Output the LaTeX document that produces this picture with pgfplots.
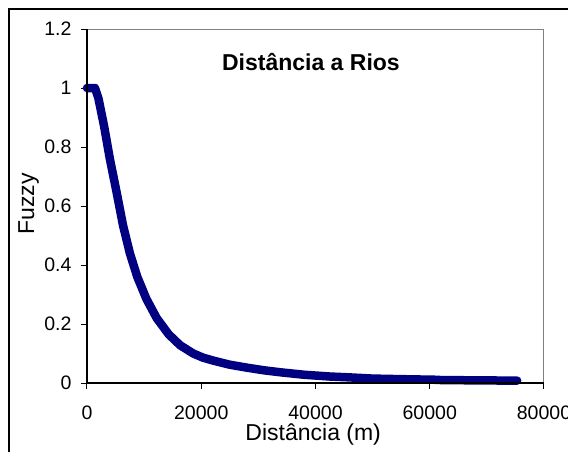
\documentclass[border=0pt]{standalone}
\usepackage{fontspec}
\setmainfont{Liberation Sans}
\usepackage{pgfplots}
\pgfplotsset{compat=1.18}
\definecolor{navyline}{RGB}{0,0,128}
\definecolor{boxgray}{RGB}{128,128,128}
\begin{document}
\begin{tikzpicture}
\useasboundingbox (-87pt,-68pt) rectangle (481pt,383pt);
% outer chart frame (only top and left edges are inside the picture)
\draw[black, line width=1.5pt] (-78pt,-70pt) -- (-78pt,374pt) -- (485pt,374pt);
\begin{axis}[
  scale only axis,
  width=457pt, height=354pt,
  xmin=0, xmax=80000, ymin=0, ymax=1.2,
  xtick={0,20000,40000,60000,80000},
  ytick={0,0.2,0.4,0.6,0.8,1,1.2},
  scaled ticks=false,
  /pgf/number format/1000 sep={},
  /pgf/number format/assume math mode=true,
  tick align=outside,
  xtick pos=left, ytick pos=left,
  major tick length=6pt,
  tick style={black, line width=1pt},
  axis line style={boxgray, line width=1pt},
  ticklabel style={font=\fontsize{19.5}{19.5}\selectfont},
  xticklabel style={yshift=-13pt},
  yticklabel style={xshift=-6pt},
  xlabel={Distância (m)},
  ylabel={Fuzzy},
  label style={font=\fontsize{23}{23}\selectfont},
  xlabel style={at={(axis description cs:0.495,0)}, anchor=base, yshift=-57pt},
  ylabel style={at={(axis description cs:-0.128,0.506)}, anchor=center, rotate=0},
  clip=false,
]
\addplot[navyline, line width=8.5pt, line cap=round, line join=round] coordinates {
  (0,1.0) (1400,1.0) (2000,0.965) (3000,0.87) (4000,0.76) (5200,0.645)
  (6300,0.535) (7500,0.44) (8800,0.36) (10400,0.285) (12200,0.22)
  (14300,0.165) (16300,0.128) (18600,0.10) (20300,0.086) (22100,0.076)
  (25000,0.062) (28000,0.052) (31000,0.043) (34000,0.036) (38000,0.028)
  (42500,0.022) (46000,0.019) (50000,0.015) (55000,0.013) (61000,0.011)
  (62000,0.010) (68000,0.009) (75300,0.008)
};
\draw[black, line width=1.5pt] (rel axis cs:0,1) -- (rel axis cs:0,0) -- (rel axis cs:1,0);
\node[font=\bfseries\fontsize{23}{23}\selectfont, anchor=base] at (rel axis cs:0.49,0.884) {Distância a Rios};
\end{axis}
\end{tikzpicture}
\end{document}
